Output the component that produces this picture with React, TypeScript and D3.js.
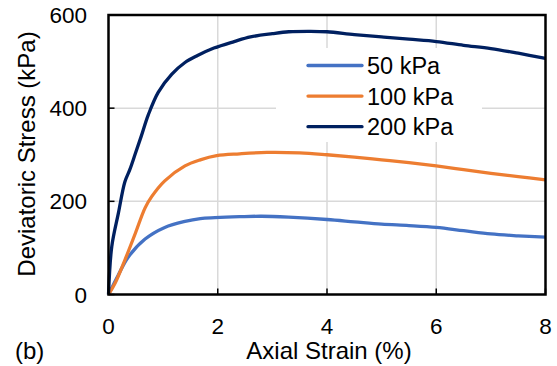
import React from "react";
import * as d3 from "d3";

const strain50 = [0, 0.18, 0.36, 0.67, 1.03, 1.4, 1.68, 1.95, 2.4, 2.8, 3.3, 4.0, 4.5, 5.0, 5.5, 6.0, 6.5, 7.0, 7.5, 8.0];
const stress50 = [0, 42, 80, 119, 144, 157, 163, 165, 167, 168, 166, 161, 156, 151, 148, 144, 137, 130, 126, 123];

const strain100 = [0, 0.12, 0.3, 0.49, 0.67, 0.79, 1.03, 1.4, 1.68, 1.98, 2.4, 2.9, 3.5, 4.0, 4.5, 5.0, 5.5, 6.0, 6.5, 7.0, 7.5, 8.0];
const stress100 = [0, 24, 74, 131, 186, 210, 244, 276, 289, 298, 302, 305, 304, 300, 295, 289, 283, 276, 268, 260, 253, 246];

const strain200 = [0, 0.06, 0.18, 0.3, 0.39, 0.49, 0.6, 0.73, 0.91, 1.16, 1.4, 1.63, 1.93, 2.3, 2.6, 3.0, 3.3, 3.7, 4.0, 4.5, 5.0, 5.5, 6.0, 6.5, 7.0, 7.5, 8.0];
const stress200 = [0, 103, 174, 242, 268, 302, 340, 386, 434, 473, 498, 513, 529, 543, 553, 560, 564, 565, 564, 558, 553, 548, 543, 535, 528, 518, 507];

const seriesNames = ["50 kPa", "100 kPa", "200 kPa"];
const seriesColors = ["#4472C4", "#ED7D31", "#002060"];
const xTicks = [0, 2, 4, 6, 8];
const yTicks = [0, 200, 400, 600];

export default function App() {
  const W = 557, H = 366;
  const x = d3.scaleLinear().domain([0, 8]).range([108.5, 545.5]);
  const y = d3.scaleLinear().domain([0, 600]).range([294.5, 15]);
  const line = d3
    .line<[number, number]>()
    .x((d) => x(d[0]))
    .y((d) => y(d[1]))
    .curve(d3.curveCatmullRom.alpha(0.5));
  const series = [
    d3.zip(strain50, stress50) as [number, number][],
    d3.zip(strain100, stress100) as [number, number][],
    d3.zip(strain200, stress200) as [number, number][],
  ];
  const font = "Arial, 'Liberation Sans', sans-serif";
  const [x0, x1] = x.range();
  const [yb, yt] = y.range();
  return (
    <svg width={W} height={H} style={{ position: "absolute", left: 0, top: 0, display: "block" }} fontFamily={font}>
      <rect x={0} y={0} width={W} height={H} fill="white" />
      {xTicks.slice(1, -1).map((t) => (
        <line key={"gx" + t} x1={x(t)} x2={x(t)} y1={yt} y2={yb} stroke="#d9d9d9" strokeWidth={1.5} />
      ))}
      {yTicks.slice(1, -1).map((t) => (
        <line key={"gy" + t} x1={x0} x2={x1} y1={y(t)} y2={y(t)} stroke="#d9d9d9" strokeWidth={1.5} />
      ))}
      {xTicks.map((t) => (
        <line key={"tx" + t} x1={x(t)} x2={x(t)} y1={yb} y2={yb - 6} stroke="black" strokeWidth={1.5} />
      ))}
      {yTicks.map((t) => (
        <line key={"ty" + t} x1={x0} x2={x0 + 6} y1={y(t)} y2={y(t)} stroke="black" strokeWidth={1.5} />
      ))}
      <rect x={276} y={48} width={206} height={94} fill="white" />
      {series.map((s, i) => (
        <path key={"s" + i} d={line(s) || ""} fill="none" stroke={seriesColors[i]} strokeWidth={3.3} strokeLinejoin="round" />
      ))}
      <rect x={x0} y={yt} width={x1 - x0} height={yb - yt} fill="none" stroke="black" strokeWidth={2.5} />
      {xTicks.map((t) => (
        <text key={"lx" + t} x={x(t)} y={334} textAnchor="middle" fontSize={22.5} fill="black">
          {t}
        </text>
      ))}
      {yTicks.map((t) => (
        <text key={"ly" + t} x={87} y={y(t) + 8} textAnchor="end" fontSize={22.5} fill="black">
          {t}
        </text>
      ))}
      <text x={329} y={359} textAnchor="middle" fontSize={24} fill="black">
        Axial Strain (%)
      </text>
      <text x={15} y={359} fontSize={24} fill="black">
        (b)
      </text>
      <text transform={`translate(35,154) rotate(-90)`} textAnchor="middle" fontSize={24} fill="black">
        Deviatoric Stress (kPa)
      </text>
      {seriesNames.map((n, i) => {
        const ly = 65.5 + i * 30.6;
        return (
          <g key={"lg" + i}>
            <line x1={308} x2={362} y1={ly} y2={ly} stroke={seriesColors[i]} strokeWidth={3.3} strokeLinecap="round" />
            <text x={367} y={ly + 8.5} fontSize={23.5} fill="black">
              {n}
            </text>
          </g>
        );
      })}
    </svg>
  );
}
